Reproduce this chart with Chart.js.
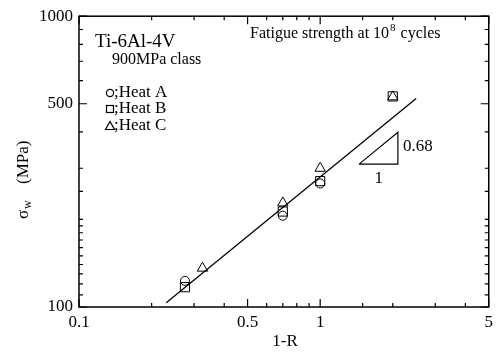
<!DOCTYPE html>
<html>
<head>
<meta charset="utf-8">
<script src="https://cdn.jsdelivr.net/npm/chart.js@4.4.0/dist/chart.umd.min.js"></script>
<style>
  html, body { margin: 0; padding: 0; background: #fff; }
</style>
</head>
<body>
<canvas id="fatigueChart" width="498" height="353"></canvas>
<script>
// fatigue strength at 10^8 cycles vs 1-R (Ti-6Al-4V, 900MPa class)
var heatAX = [0.275, 0.7, 1];
var heatAY = [123, 206, 266];
var heatBX = [0.275, 0.7, 1, 2];
var heatBY = [117, 213, 271, 530];
var heatCX = [0.325, 0.7, 1, 2];
var heatCY = [136, 228, 300, 528];

// fitted line, slope 0.68 on log-log
var fitX = [0.23, 2.5];
var fitY = [103.5, 521];

// slope triangle
var slopeX = [1.45, 2.1, 2.1, 1.45];
var slopeY = [310, 310, 399, 310];

var xTickLabels = [0.1, 0.5, 1, 5];
var yTickLabels = [100, 500, 1000];

var serif = "'Liberation Serif', 'Times New Roman', serif";

function pts(xs, ys) {
    var out = [];
    for (var i = 0; i < xs.length; i++) {
        out.push({x: xs[i], y: ys[i]});
    }
    return out;
}

function inList(v, list) {
    for (var i = 0; i < list.length; i++) {
        if (Math.abs(list[i] - v) / list[i] < 1e-6) return true;
    }
    return false;
}

var frame = {
    id: 'frame',
    afterDraw: function(chart) {
        var ctx = chart.ctx;
        var a = chart.chartArea;
        var xs = chart.scales.x, ys = chart.scales.y;
        ctx.save();
        ctx.strokeStyle = '#000';
        ctx.lineWidth = 1.5;
        ctx.strokeRect(a.left, a.top, a.right - a.left, a.bottom - a.top);

        // inward ticks on all four sides
        ctx.lineWidth = 1.2;
        ctx.beginPath();
        xs.ticks.forEach(function(t) {
            var px = xs.getPixelForValue(t.value);
            var len = inList(t.value, xTickLabels) ? 8 : 4;
            ctx.moveTo(px, a.bottom); ctx.lineTo(px, a.bottom - len);
            ctx.moveTo(px, a.top); ctx.lineTo(px, a.top + len);
        });
        ys.ticks.forEach(function(t) {
            var py = ys.getPixelForValue(t.value);
            var len = inList(t.value, yTickLabels) ? 8 : 4;
            ctx.moveTo(a.left, py); ctx.lineTo(a.left + len, py);
            ctx.moveTo(a.right, py); ctx.lineTo(a.right - len, py);
        });
        ctx.stroke();

        ctx.fillStyle = '#000';
        ctx.textBaseline = 'middle';
        ctx.textAlign = 'left';
        ctx.font = '19px ' + serif;
        ctx.fillText('Ti-6Al-4V', 95, 42);
        ctx.font = '16px ' + serif;
        ctx.fillText('900MPa class', 112, 60);

        // fatigue title with superscript
        ctx.font = '16px ' + serif;
        var s1 = 'Fatigue strength at 10';
        ctx.fillText(s1, 250, 34);
        var w1 = ctx.measureText(s1).width;
        ctx.font = '11px ' + serif;
        ctx.fillText('8', 250 + w1 + 1, 28);
        var w2 = ctx.measureText('8').width;
        ctx.font = '16px ' + serif;
        ctx.fillText(' cycles', 250 + w1 + w2 + 2, 34);

        // legend
        ctx.lineWidth = 1.2;
        ctx.beginPath();
        ctx.arc(110, 93, 3.6, 0, Math.PI * 2);
        ctx.stroke();
        ctx.strokeRect(106.5, 105.5, 7, 7);
        ctx.beginPath();
        ctx.moveTo(110, 121.5); ctx.lineTo(114.5, 129.5); ctx.lineTo(105.5, 129.5); ctx.closePath();
        ctx.stroke();
        ctx.font = '17px ' + serif;
        ctx.fillText(';Heat A', 114, 93);
        ctx.fillText(';Heat B', 114, 109);
        ctx.fillText(';Heat C', 114, 126);

        // slope labels
        ctx.fillText('0.68', xs.getPixelForValue(slopeX[1]) + 5, ys.getPixelForValue(355));
        ctx.textAlign = 'center';
        ctx.fillText('1', xs.getPixelForValue(1.75), ys.getPixelForValue(slopeY[0]) + 14);

        // axis titles
        ctx.fillText('1-R', 285, 342);
        ctx.translate(28, 0);
        ctx.rotate(-Math.PI / 2);
        ctx.textAlign = 'left';
        ctx.textBaseline = 'alphabetic';
        ctx.font = '17px ' + serif;
        ctx.fillText('\u03c3', -219, 0);
        ctx.font = '12px ' + serif;
        ctx.fillText('w', -209, 3);
        ctx.font = '17px ' + serif;
        ctx.fillText('(MPa)', -184, 0);
        ctx.restore();
    }
};

var ctx = document.getElementById('fatigueChart');
var chart = new Chart(ctx, {
    type: 'scatter',
    data: {
        datasets: [
            {
                label: 'Heat A',
                data: pts(heatAX, heatAY),
                pointStyle: 'circle',
                pointRadius: 4.5,
                backgroundColor: 'rgba(0,0,0,0)',
                borderColor: '#000',
                borderWidth: 1
            },
            {
                label: 'Heat B',
                data: pts(heatBX, heatBY),
                pointStyle: 'rect',
                pointRadius: 6.5,
                backgroundColor: 'rgba(0,0,0,0)',
                borderColor: '#000',
                borderWidth: 1
            },
            {
                label: 'Heat C',
                data: pts(heatCX, heatCY),
                pointStyle: 'triangle',
                pointRadius: 6,
                backgroundColor: 'rgba(0,0,0,0)',
                borderColor: '#000',
                borderWidth: 1
            },
            {
                label: 'fit',
                data: pts(fitX, fitY),
                showLine: true,
                pointRadius: 0,
                borderColor: '#000',
                borderWidth: 1.3
            },
            {
                label: 'slope',
                data: pts(slopeX, slopeY),
                showLine: true,
                pointRadius: 0,
                borderColor: '#000',
                borderWidth: 1.2
            }
        ]
    },
    options: {
        responsive: false,
        animation: false,
        layout: { padding: { top: 14, right: 8, left: 0, bottom: 0 } },
        plugins: {
            legend: { display: false },
            tooltip: { enabled: false }
        },
        scales: {
            x: {
                type: 'logarithmic',
                min: 0.1,
                max: 5,
                grid: { display: false, drawTicks: false },
                border: { display: false },
                afterFit: function(scale) { scale.height = 46; },
                ticks: {
                    autoSkip: false,
                    maxRotation: 0,
                    padding: 5,
                    color: '#000',
                    font: { family: serif, size: 17 },
                    callback: function(v) {
                        return inList(v, xTickLabels) ? String(+v.toPrecision(3)) : '';
                    }
                }
            },
            y: {
                type: 'logarithmic',
                min: 100,
                max: 1000,
                grid: { display: false, drawTicks: false },
                border: { display: false },
                afterFit: function(scale) { scale.width = 79; },
                ticks: {
                    autoSkip: false,
                    padding: 6,
                    color: '#000',
                    font: { family: serif, size: 17 },
                    callback: function(v) {
                        return inList(v, yTickLabels) ? String(Math.round(v)) : '';
                    }
                }
            }
        }
    },
    plugins: [frame]
});
</script>
</body>
</html>
